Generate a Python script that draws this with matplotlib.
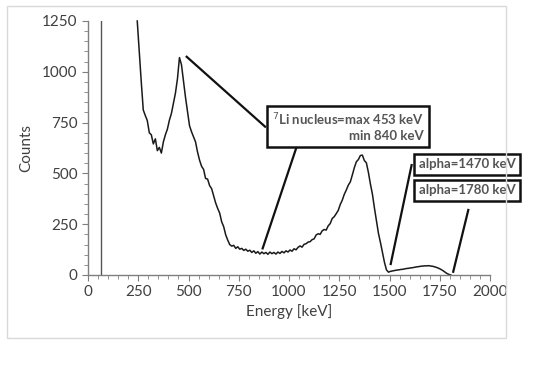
import matplotlib
matplotlib.use("Agg")
import matplotlib.pyplot as plt
from matplotlib.patches import Rectangle
from matplotlib.ticker import MultipleLocator

plt.rcParams['font.family'] = ['Lato', 'DejaVu Sans']

# =========================
# data
# =========================
energy = [245, 255, 265, 275, 285, 295, 305, 315, 325, 335, 345, 355, 365, 375, 385,
          395, 405, 415, 425, 435, 445, 455, 465, 475, 485, 495, 505, 515, 525, 535,
          545, 555, 565, 575, 585, 595, 605, 615, 625, 635, 645, 655, 665, 675, 685,
          695, 705, 715, 725, 735, 745, 755, 765, 775, 785, 795, 805, 815, 825, 835,
          845, 855, 865, 875, 885, 895, 905, 915, 925, 935, 945, 955, 965, 975, 985,
          995, 1005, 1015, 1025, 1035, 1045, 1055, 1065, 1075, 1085, 1095, 1105, 1115,
          1125, 1135, 1145, 1155, 1165, 1175, 1185, 1195, 1205, 1215, 1225, 1235, 1245,
          1255, 1265, 1275, 1285, 1295, 1305, 1315, 1325, 1335, 1345, 1355, 1365, 1375,
          1385, 1395, 1405, 1415, 1425, 1435, 1445, 1455, 1465, 1475, 1485, 1495, 1505,
          1515, 1525, 1535, 1545, 1555, 1565, 1575, 1585, 1595, 1605, 1615, 1625, 1635,
          1645, 1655, 1665, 1675, 1685, 1695, 1705, 1715, 1725, 1735, 1745, 1755, 1765,
          1775, 1785, 1795, 1805]
counts = [1250, 1100, 950, 812, 785, 760, 700, 690, 645, 670, 612, 628, 600, 655, 690,
          718, 762, 795, 845, 895, 965, 1070, 1035, 955, 875, 805, 735, 705, 680, 655,
          605, 565, 535, 520, 475, 472, 440, 425, 390, 355, 328, 305, 262, 238, 198,
          172, 150, 142, 146, 131, 139, 127, 131, 121, 127, 117, 122, 111, 119, 107,
          115, 103, 113, 105, 111, 102, 113, 105, 111, 103, 113, 106, 116, 109, 119,
          113, 123, 117, 129, 124, 136, 143, 137, 151, 154, 162, 164, 174, 178, 197,
          203, 200, 217, 224, 221, 242, 253, 278, 287, 302, 318, 347, 368, 397, 418,
          442, 458, 492, 528, 557, 568, 588, 590, 563, 552, 505, 448, 398, 330, 268,
          205, 160, 110, 62, 25, 14, 18, 20, 22, 24, 25, 27, 28, 30, 32,
          33, 35, 36, 38, 40, 41, 43, 44, 45, 45, 46, 44, 43, 40, 37,
          33, 28, 22, 15, 8, 3, 0]

marker_energy = 63

li_text = "$^7$Li nucleus=max 453 keV\nmin 840 keV"
alpha_texts = ["alpha=1470 keV", "alpha=1780 keV"]

# pointer lines: (x0, y0, x1, y1) in data units
pointers = [(491, 1074, 881, 730),
            (1038, 631, 869, 131),
            (1610, 541, 1506, 54),
            (1892, 320, 1817, 16)]

# =========================
# figure
# =========================
fig = plt.figure(figsize=(5.37, 3.77), dpi=100)
fig.patches.append(Rectangle((7 / 537, 39 / 377), 499 / 537, 332 / 377,
                             transform=fig.transFigure, fill=False,
                             edgecolor='#d9d9d9', linewidth=1.0))
ax = fig.add_axes([88 / 537, 1 - 275 / 377, 402 / 537, 254 / 377])

ax.plot(energy, counts, color='#1a1a1a', linewidth=1.1, clip_on=False)
ax.plot([marker_energy, marker_energy], [0, 1250], color='#555555', linewidth=1.0)

ax.set_xlim(0, 2000)
ax.set_ylim(0, 1250)
ax.xaxis.set_major_locator(MultipleLocator(250))
ax.xaxis.set_minor_locator(MultipleLocator(50))
ax.yaxis.set_major_locator(MultipleLocator(250))
ax.yaxis.set_minor_locator(MultipleLocator(50))

for s in ['top', 'right']:
    ax.spines[s].set_visible(False)
for s in ['left', 'bottom']:
    ax.spines[s].set_color('#7f7f7f')
    ax.spines[s].set_linewidth(1.0)
ax.tick_params(which='both', direction='out', color='#7f7f7f', labelcolor='#404040',
               labelsize=11)
ax.tick_params(which='major', length=4)
ax.tick_params(which='minor', length=3)

ax.set_xlabel('Energy [keV]', fontsize=11, color='#404040', labelpad=3)
ax.set_ylabel('Counts', fontsize=11, color='#404040', labelpad=6)

# pointers
for x0, y0, x1, y1 in pointers:
    ax.plot([x0, x1], [y0, y1], color='#111111', linewidth=1.6, clip_on=False)

box = dict(boxstyle='square,pad=0.35', facecolor='white', edgecolor='#111111', linewidth=1.8)
ax.text(1294, 728, li_text, ha='center', va='center', multialignment='right',
        fontsize=9.5, fontweight='bold', color='#555555', bbox=box, clip_on=False)
ax.text(1886, 544, alpha_texts[0], ha='center', va='center', fontsize=9.5,
        fontweight='bold', color='#555555', bbox=box, clip_on=False)
ax.text(1886, 416, alpha_texts[1], ha='center', va='center', fontsize=9.5,
        fontweight='bold', color='#555555', bbox=box, clip_on=False)

fig.savefig('out.png', dpi=100)
